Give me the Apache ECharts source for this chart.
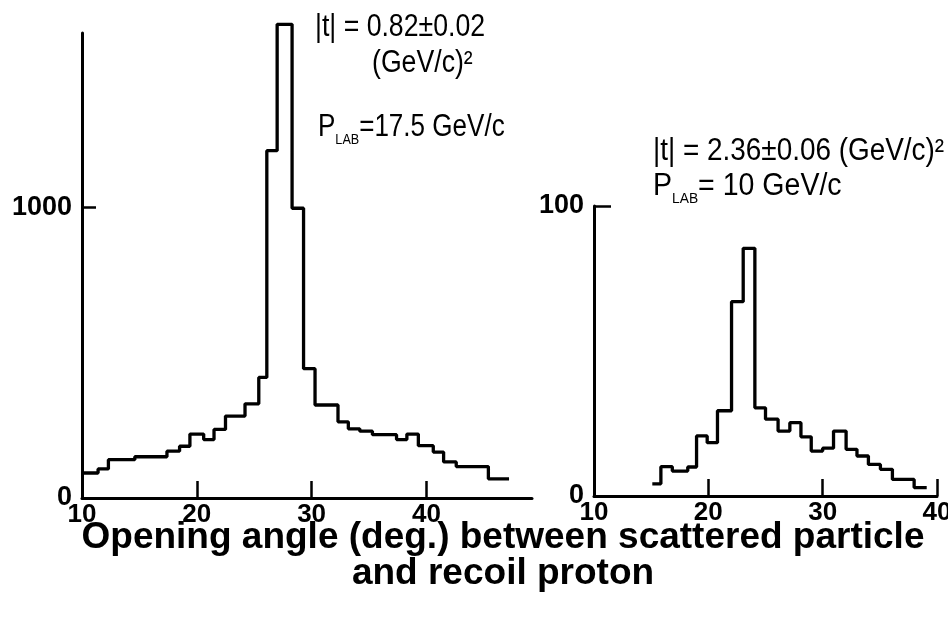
<!DOCTYPE html>
<html><head><meta charset="utf-8">
<script src="https://cdn.jsdelivr.net/npm/echarts@6/dist/echarts.min.js"></script>
<style>html,body{margin:0;padding:0;background:#fff}#c{width:948px;height:618px}</style>
</head><body><div id="c"></div>
<script>
// Left panel: |t| = 0.82, P_LAB = 17.5 GeV/c  (bin edges in degrees, counts)
const leftEdges  = [10, 11.4, 12.3, 14.6, 17.4, 18.5, 19.4, 20.6, 21.5, 22.5, 24.2, 25.4, 26.1, 27.0, 28.3, 29.3, 30.3, 32.3, 33.2, 34.2, 35.3, 37.4, 38.3, 39.3, 40.6, 41.5, 42.6, 45.4, 47.2];
const leftCounts = [86, 100, 132, 142, 161, 178, 220, 201, 236, 282, 324, 415, 1195, 1630, 997, 445, 320, 262, 238, 230, 218, 201, 220, 180, 158, 124, 108, 66];
// Right panel: |t| = 2.36, P_LAB = 10 GeV/c
const rightEdges  = [15.1, 15.85, 16.85, 18.2, 18.97, 19.9, 20.8, 22.03, 23.05, 24.07, 25.0, 26.1, 27.13, 28.1, 29.0, 30.0, 30.95, 32.05, 33.0, 34.0, 35.05, 36.1, 38.0, 39.1];
const rightCounts = [4.2, 10.1, 8.6, 10, 20.7, 18.4, 29.4, 67, 85.4, 30.4, 26.5, 22.4, 25.3, 20.4, 15.5, 16.5, 22.4, 16.1, 13.8, 10.9, 9.2, 5.7, 2.9];

const xTickLabels = [10, 20, 30, 40];
const xTickMarks = [20, 30, 40];
const leftYLabels = [0, 1000];
const leftYTicks = [1000];
const rightYLabels = [0, 100];
const rightYTicks = [100];

const titleText = 'Opening angle (deg.) between scattered particle\nand recoil proton';

function stepData(edges, counts) {
  const d = [];
  for (let i = 0; i < counts.length; i++) d.push([edges[i], counts[i]]);
  d.push([edges[edges.length - 1], counts[counts.length - 1]]);
  return d;
}

const FF = "'Liberation Sans', Arial, sans-serif";
const black = '#000';
const plain = v => String(v);

function xAxisCfg(grid, max) {
  return {
    gridIndex: grid, type: 'value', min: 10, max: max,
    axisLine: { show: true, onZero: false, lineStyle: { color: black, width: 3 } },
    axisTick: { show: true, inside: true, length: 17, customValues: xTickMarks, lineStyle: { color: black, width: 2.5 } },
    axisLabel: { customValues: xTickLabels, formatter: plain, color: black, fontSize: 26, fontWeight: 'bold', fontFamily: FF, margin: 4 },
    splitLine: { show: false }
  };
}
function yAxisCfg(grid, max, labels, ticks, tickLen) {
  return {
    gridIndex: grid, type: 'value', min: 0, max: max,
    axisLine: { show: true, onZero: false, lineStyle: { color: black, width: 3 } },
    axisTick: { show: true, inside: true, length: tickLen, customValues: ticks, lineStyle: { color: black, width: 2.5 } },
    axisLabel: { customValues: labels, formatter: plain, color: black, fontSize: 27, fontWeight: 'bold', fontFamily: FF, margin: 10 },
    splitLine: { show: false }
  };
}

const annFont = "31px " + FF;
const subRich = {
  m: { fontSize: 31, fontFamily: FF, lineHeight: 31, verticalAlign: 'top' },
  s: { fontSize: 15, fontFamily: FF, lineHeight: 15, padding: [20, 0, 0, 0], verticalAlign: 'top' }
};

const chart = echarts.init(document.getElementById('c'), null, { renderer: 'canvas' });
chart.setOption({
  backgroundColor: '#fff',
  animation: false,
  grid: [
    { left: 82, top: 33, width: 450, height: 465, outerBoundsMode: 'none', containLabel: false },
    { left: 594, top: 206, width: 343, height: 290, outerBoundsMode: 'none', containLabel: false }
  ],
  xAxis: [xAxisCfg(0, 49.2), xAxisCfg(1, 40)],
  yAxis: [yAxisCfg(0, 1600, leftYLabels, leftYTicks, 14), yAxisCfg(1, 100, rightYLabels, rightYTicks, 17)],
  series: [
    { type: 'line', xAxisIndex: 0, yAxisIndex: 0, step: 'end', data: stepData(leftEdges, leftCounts),
      symbol: 'none', clip: false, lineStyle: { color: black, width: 3.3 } },
    { type: 'line', xAxisIndex: 1, yAxisIndex: 1, step: 'end', data: stepData(rightEdges, rightCounts),
      symbol: 'none', clip: false, lineStyle: { color: black, width: 3.3 } }
  ],
  graphic: [
    { type: 'text', x: 315, y: 27, scaleX: 0.86, style: { text: '|t| = 0.82±0.02', fill: black, font: annFont, textVerticalAlign: 'middle' } },
    { type: 'text', x: 372, y: 63, scaleX: 0.86, style: { text: '(GeV/c)²', fill: black, font: annFont, textVerticalAlign: 'middle' } },
    { type: 'text', x: 318, y: 112, scaleX: 0.84, style: { text: '{m|P}{s|LAB}{m|=17.5 GeV/c}', fill: black, textVerticalAlign: 'top', rich: subRich } },
    { type: 'text', x: 653, y: 151, scaleX: 0.9, style: { text: '|t| = 2.36±0.06 (GeV/c)²', fill: black, font: annFont, textVerticalAlign: 'middle' } },
    { type: 'text', x: 653, y: 171, scaleX: 0.92, style: { text: '{m|P}{s|LAB}{m|= 10 GeV/c}', fill: black, textVerticalAlign: 'top', rich: subRich } },
    { type: 'text', x: 503, y: 520, style: { text: titleText, fill: black, textAlign: 'center', textVerticalAlign: 'top',
        font: "bold 37px " + FF, lineHeight: 36 } }
  ]
});
</script></body></html>
